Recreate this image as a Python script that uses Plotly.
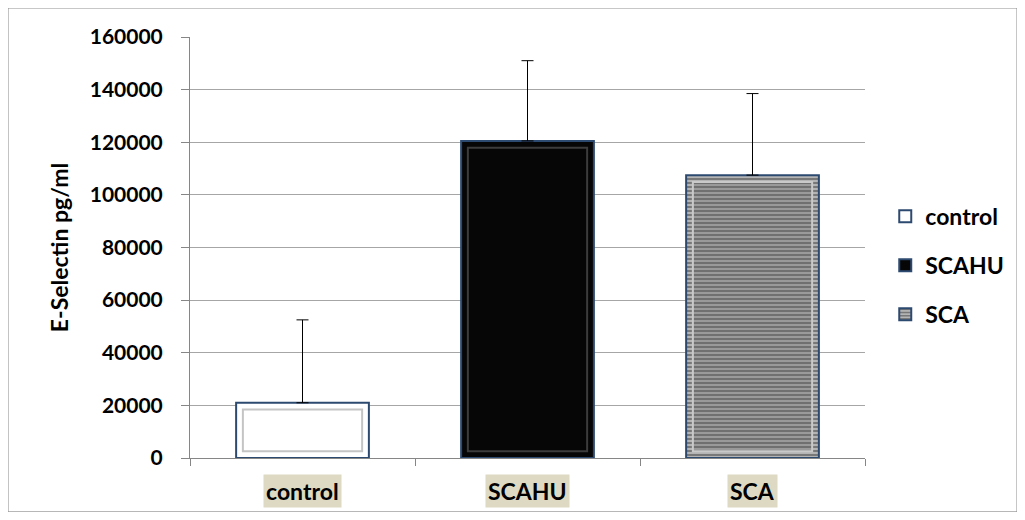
import plotly.graph_objects as go

categories = ["control", "SCAHU", "SCA"]
means = [21000, 120500, 107500]
errors_plus = [31500, 30500, 31000]

fills = ["#ffffff", "#060606", "#9c9c9c"]
inner_lines = ["#c4c4c4", "#3c3c3c", "#c9c9c9"]
outline = "#2c4a70"
bevel_inset = 2600

font_family = "Lato, 'Open Sans', sans-serif"

def sca_pattern(bg):
    return dict(shape="-", fgcolor="#5e5e5e", bgcolor=bg, size=4,
                solidity=0.35, fillmode="replace")

fig = go.Figure()
for i, cat in enumerate(categories):
    marker = dict(color=fills[i], line=dict(color=outline, width=2))
    if cat == "SCA":
        marker["pattern"] = sca_pattern("#b4b4b4")
    fig.add_trace(go.Bar(
        x=[cat], y=[means[i]], name=cat, legendgroup=cat,
        marker=marker, width=0.59,
        error_y=dict(type="data", array=[errors_plus[i]], arrayminus=[0],
                     symmetric=False, color="#000000", thickness=1, width=6),
    ))

# inner bevel panels
for i, cat in enumerate(categories):
    marker = dict(color=fills[i], line=dict(color=inner_lines[i], width=2))
    if cat == "SCA":
        marker["pattern"] = sca_pattern("#9a9a9a")
    fig.add_trace(go.Bar(
        x=[cat], y=[means[i] - 2 * bevel_inset], base=[bevel_inset],
        showlegend=False, hoverinfo="skip", marker=marker, width=0.53,
    ))

annotations = []
for cat in categories:
    annotations.append(dict(
        x=cat, y=-0.037, xref="x", yref="paper", text=cat,
        showarrow=False, yanchor="top", bgcolor="#ddd9c3",
        font=dict(family=font_family, size=23, color="#000000", weight="bold"),
        borderpad=2,
    ))

fig.update_layout(
    width=1009, height=504,
    margin=dict(l=182, r=152, t=29, b=54, autoexpand=False),
    paper_bgcolor="#ffffff", plot_bgcolor="#ffffff",
    barmode="overlay",
    showlegend=True,
    legend=dict(x=1.03, y=0.625, xanchor="left", yanchor="top",
                font=dict(family=font_family, size=23, color="#000000", weight="bold"),
                tracegroupgap=16, itemwidth=30,
                bgcolor="rgba(0,0,0,0)"),
    annotations=annotations,
    shapes=[dict(type="rect", xref="paper", yref="paper",
                 x0=-0.2696, x1=1.2252, y0=-0.128, y1=1.0689,
                 line=dict(color="#8c8c8c", width=1), layer="below")],
    font=dict(family=font_family, color="#000000"),
)
fig.update_xaxes(
    showticklabels=False, showline=True, linecolor="#868686", linewidth=1,
    ticks="outside", tickson="boundaries", ticklen=7, tickcolor="#868686",
    showgrid=False, range=[-0.5, 2.5],
)
fig.update_yaxes(
    range=[0, 160000], dtick=20000, tickformat="d",
    showline=True, linecolor="#868686", linewidth=1,
    ticks="outside", ticklen=8, tickcolor="#868686",
    ticklabelstandoff=14,
    showgrid=True, gridcolor="#a6a6a6", gridwidth=1,
    tickfont=dict(family=font_family, size=21, color="#000000", weight="bold"),
    title=dict(text="E-Selectin pg/ml",
               font=dict(family=font_family, size=23, color="#000000", weight="bold"),
               standoff=14),
    zeroline=False,
)

fig.write_html("out.html")
